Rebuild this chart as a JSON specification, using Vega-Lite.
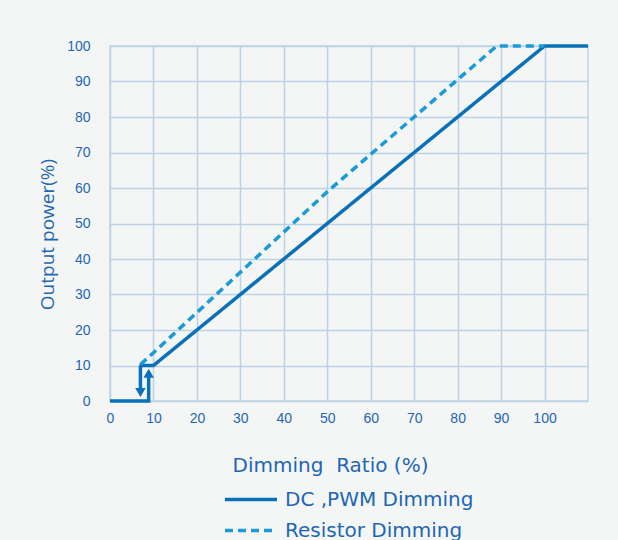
{
  "$schema": "https://vega.github.io/schema/vega-lite/v6.json",
  "width": 478,
  "height": 355,
  "autosize": "none",
  "padding": {"left": 110, "top": 46, "right": 30, "bottom": 139},
  "background": "#f4f6f6",
  "config": {
    "font": "Open Sans",
    "view": {"stroke": "#bcd3e6", "strokeWidth": 1.5}
  },
  "datasets": {
    "lines": [
      {"series": "DC ,PWM Dimming", "seg": "a", "o": 1, "x": 0, "y": 0},
      {"series": "DC ,PWM Dimming", "seg": "a", "o": 2, "x": 8.9, "y": 0},
      {"series": "DC ,PWM Dimming", "seg": "a", "o": 3, "x": 8.9, "y": 7},
      {"series": "DC ,PWM Dimming", "seg": "b", "o": 1, "x": 6.8, "y": 10},
      {"series": "DC ,PWM Dimming", "seg": "b", "o": 2, "x": 10, "y": 10},
      {"series": "DC ,PWM Dimming", "seg": "b", "o": 3, "x": 100, "y": 100},
      {"series": "DC ,PWM Dimming", "seg": "b", "o": 4, "x": 110, "y": 100},
      {"series": "DC ,PWM Dimming", "seg": "c", "o": 1, "x": 7, "y": 10},
      {"series": "DC ,PWM Dimming", "seg": "c", "o": 2, "x": 7, "y": 3},
      {"series": "Resistor Dimming", "seg": "d", "o": 1, "x": 7, "y": 10.3},
      {"series": "Resistor Dimming", "seg": "d", "o": 2, "x": 10, "y": 13.6},
      {"series": "Resistor Dimming", "seg": "d", "o": 3, "x": 50.5, "y": 59.5},
      {"series": "Resistor Dimming", "seg": "d", "o": 4, "x": 89, "y": 100},
      {"series": "Resistor Dimming", "seg": "d", "o": 5, "x": 100, "y": 100}
    ],
    "arrows": [
      {"dir": "up", "x": 8.9, "y": 7.8},
      {"dir": "down", "x": 7, "y": 2.4}
    ]
  },
  "encoding": {
    "x": {
      "field": "x", "type": "quantitative",
      "scale": {"domain": [0, 110], "nice": false, "zero": false},
      "axis": {
        "values": [0, 10, 20, 30, 40, 50, 60, 70, 80, 90, 100],
        "grid": true, "gridColor": "#bcd3e6", "gridWidth": 1.5,
        "domain": false, "ticks": false, "labelFlush": false, "labelOverlap": false,
        "labelColor": "#1f66b2", "labelFont": "Liberation Sans", "labelFontSize": 14,
        "labelPadding": 10,
        "title": "Dimming\u00a0 Ratio (%)",
        "titleColor": "#1f66b2", "titleFont": "DejaVu Sans", "titleFontSize": 20, "titleFontWeight": "normal",
        "titleX": 220, "titleY": 64, "titleBaseline": "middle"
      }
    },
    "y": {
      "field": "y", "type": "quantitative",
      "scale": {"domain": [0, 100], "nice": false},
      "axis": {
        "values": [0, 10, 20, 30, 40, 50, 60, 70, 80, 90, 100],
        "grid": true, "gridColor": "#bcd3e6", "gridWidth": 1.5,
        "domain": false, "ticks": false, "labelFlush": false, "labelOverlap": false,
        "labelColor": "#1f66b2", "labelFont": "Liberation Sans", "labelFontSize": 14,
        "labelPadding": 20,
        "title": "Output power(%)",
        "titleColor": "#1f66b2", "titleFont": "Open Sans", "titleFontSize": 19, "titleFontWeight": "normal",
        "titleX": -63, "titleY": 188, "titleBaseline": "middle"
      }
    }
  },
  "layer": [
    {
      "data": {"name": "lines"},
      "mark": {"type": "line", "strokeWidth": 3.5, "strokeCap": "butt"},
      "encoding": {
        "detail": {"field": "seg", "type": "nominal"},
        "order": {"field": "o", "type": "quantitative"},
        "color": {
          "field": "series", "type": "nominal",
          "scale": {"domain": ["DC ,PWM Dimming", "Resistor Dimming"], "range": ["#0a70b8", "#1a9ad8"]},
          "legend": {
            "title": null, "orient": "none", "legendX": 113, "legendY": 438,
            "direction": "vertical",
            "symbolType": "stroke", "symbolSize": 2704, "symbolStrokeWidth": 3.5,
            "labelFontSize": 20, "labelFont": "DejaVu Sans", "labelColor": "#1f66b2", "labelLimit": 400,
            "labelOffset": 6, "rowPadding": 0, "clipHeight": 31
          }
        },
        "strokeDash": {
          "field": "series", "type": "nominal",
          "scale": {"domain": ["DC ,PWM Dimming", "Resistor Dimming"], "range": [[1, 0], [8, 5]]},
          "legend": {
            "title": null, "orient": "none", "legendX": 113, "legendY": 438,
            "direction": "vertical",
            "symbolType": "stroke", "symbolSize": 2704, "symbolStrokeWidth": 3.5,
            "labelFontSize": 20, "labelFont": "DejaVu Sans", "labelColor": "#1f66b2", "labelLimit": 400,
            "labelOffset": 6, "rowPadding": 0, "clipHeight": 31
          }
        }
      }
    },
    {
      "data": {"name": "arrows"},
      "mark": {"type": "point", "filled": true, "opacity": 1, "color": "#0a70b8", "size": 110},
      "encoding": {
        "shape": {
          "field": "dir", "type": "nominal",
          "scale": {"domain": ["up", "down"], "range": ["triangle-up", "triangle-down"]},
          "legend": null
        }
      }
    }
  ]
}
